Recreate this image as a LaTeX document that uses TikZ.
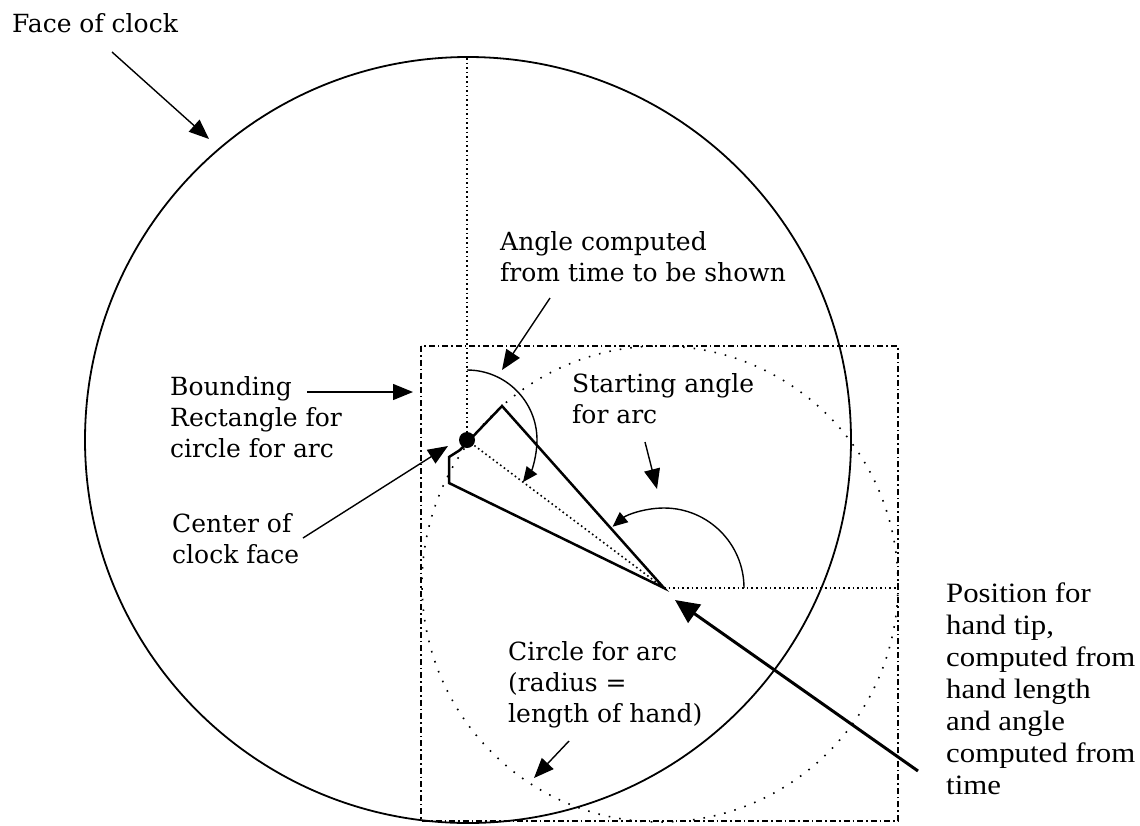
\documentclass[tikz,border=0pt]{standalone}
\usepackage{fontspec}
\setmainfont{DejaVu Serif}
\newfontfamily\timesfont[FakeStretch=1.1]{Liberation Serif}
\usetikzlibrary{arrows.meta}
\begin{document}
\begin{tikzpicture}[x=1pt,y=-1pt,
  lbl/.style={font=\fontsize{25}{31}\selectfont, anchor=base west, inner sep=0pt, align=left},
  poslbl/.style={font=\timesfont\fontsize{28}{32}\selectfont, anchor=base west, inner sep=0pt, align=left},
  ptr/.style={line width=1.4pt, -{Triangle[length=20pt,width=16pt]}},
  arcptr/.style={line width=1.4pt, -{Triangle[length=15pt,width=13pt]}},
  bigptr/.style={line width=3pt, -{Triangle[length=24pt,width=22pt]}},
  dots/.style={line width=1.6pt, dash pattern=on 1.6pt off 3pt},
  sparse/.style={line width=1.6pt, dash pattern=on 1.6pt off 9pt},
  dashdot/.style={line width=1.5pt, dash pattern=on 6pt off 3pt on 1.6pt off 3pt},
  hand/.style={line width=2.5pt, line join=miter},
  facestyle/.style={line width=1.8pt},
]
\useasboundingbox (0,0) rectangle (1140,825);

% main geometry
\coordinate (C) at (467,440);   % centre of clock face
\coordinate (T) at (664,588);   % hand tip
\coordinate (A) at (660,584);   % centre of circle for arc

% face of clock
\draw[facestyle] (468,440) circle[radius=383];

% bounding rectangle and circle for arc
\draw[dashdot] (421,346) rectangle (898,821);
\draw[sparse] (A) circle[radius=238];

% dotted reference lines
\coordinate (Top) at (467,58);
\coordinate (R) at (898,588);
\draw[dots] (Top) -- (C);
\draw[dots] (T) -- (R);
\draw[dots] (C) -- (T);

% the hand
\draw[hand] (T) -- (502,406) -- (460,450) -- (449,457) -- (449,483) -- cycle;
\fill (C) circle[radius=8];

% angle arcs
\draw[arcptr] (467,370) arc[start angle=-90, end angle=37, radius=70];
\draw[arcptr] (744,588) arc[start angle=0, end angle=-130, radius=80];

% labels (anchor = baseline of last line)
\node[lbl] (face) at (12,32) {Face of clock};
\node[lbl] (angle) at (500,281) {Angle computed\\from time to be shown};
\node[lbl] (bound) at (170,457) {Bounding\\Rectangle for\\circle for arc};
\node[lbl] (start) at (572,423) {Starting angle\\for arc};
\node[lbl] (center) at (172,563) {Center of\\clock face};
\node[lbl] (circ) at (508,722) {Circle for arc\\(radius =\\length of hand)};
\node[poslbl] (pos) at (946,794) {Position for\\hand tip,\\computed from\\hand length\\and angle\\computed from\\time};

% pointers
\coordinate (faceS) at (112,52);   \coordinate (faceE) at (209,139);
\coordinate (angS) at (550,298);   \coordinate (angE) at (502,370);
\coordinate (bndS) at (307,392);   \coordinate (bndE) at (413,392);
\coordinate (cenS) at (303,538);   \coordinate (cenE) at (448,446);
\coordinate (staS) at (645,442);   \coordinate (staE) at (657,489);
\coordinate (cirS) at (569,741);   \coordinate (cirE) at (534,778);
\coordinate (posS) at (918,771);   \coordinate (posE) at (675,600);

\draw[ptr] (faceS) -- (faceE);
\draw[ptr] (angS) -- (angE);
\draw[ptr] (bndS) -- (bndE);
\draw[ptr] (cenS) -- (cenE);
\draw[ptr] (staS) -- (staE);
\draw[ptr] (cirS) -- (cirE);
\draw[bigptr] (posS) -- (posE);
\end{tikzpicture}
\end{document}
